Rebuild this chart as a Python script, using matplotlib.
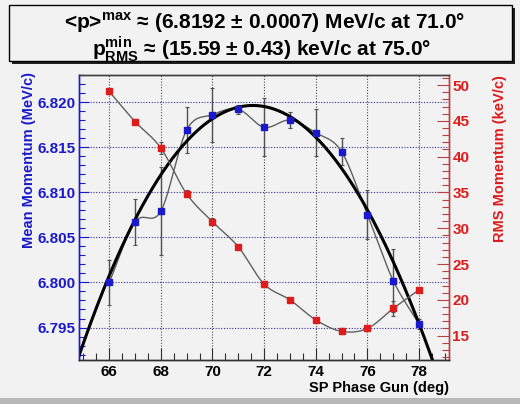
import numpy as np
import matplotlib
matplotlib.use('Agg')
import matplotlib.pyplot as plt
from matplotlib.patches import Rectangle
from matplotlib.ticker import MultipleLocator, FormatStrFormatter

# ---------------- data ----------------
phase = [66, 67, 68, 69, 70, 71, 72, 73, 74, 75, 76, 77, 78]
mean_p = [6.8000, 6.8067, 6.8079, 6.8169, 6.8186, 6.8192, 6.8172,
          6.8180, 6.8166, 6.8145, 6.8075, 6.8002, 6.7954]
mean_err = [0.0025, 0.0025, 0.0049, 0.0025, 0.0030, 0.0005, 0.0032,
            0.0009, 0.0026, 0.0015, 0.0027, 0.0035, 0.0006]
rms_p = [49.1, 44.9, 41.2, 34.8, 30.9, 27.4, 22.2, 20.0, 17.2, 15.6, 16.0, 18.8, 21.4]
rms_err = [0.3, 0.3, 0.8, 0.5, 0.5, 0.3, 0.4, 0.3, 0.3, 0.43, 0.4, 1.0, 0.3]
# points
fit_x = [64.83, 66, 67, 68, 70, 71.7, 74, 76, 78, 78.5]
fit_y = [6.7921, 6.8000, 6.8072, 6.8126, 6.8178, 6.8194, 6.8163, 6.8080, 6.7956, 6.7914]

title1 = "<p>" + r"$^{\mathbf{max}}$" + " \u2248 (6.8192 \u00b1 0.0007) MeV/c at 71.0\u00b0"
title2 = r"$\mathbf{p}^{\mathbf{min}}_{\mathbf{RMS}}$" + " \u2248 (15.59 \u00b1 0.43) keV/c at 75.0\u00b0"

plt.rcParams['font.family'] = ['Liberation Sans', 'DejaVu Sans']
plt.rcParams['font.weight'] = 'bold'
plt.rcParams['axes.labelweight'] = 'bold'
plt.rcParams['mathtext.fontset'] = 'custom'
plt.rcParams['mathtext.bf'] = 'Liberation Sans:bold'
plt.rcParams['mathtext.rm'] = 'Liberation Sans:bold'

BG = '#f2f2f2'
BLUE = '#1a1acc'
RED = '#dd1c1c'
W, H = 520, 404


def catmull(x, y, n=20):
    x = np.asarray(x, float); y = np.asarray(y, float)
    px = np.concatenate([[2 * x[0] - x[1]], x, [2 * x[-1] - x[-2]]])
    py = np.concatenate([[2 * y[0] - y[1]], y, [2 * y[-1] - y[-2]]])
    t = np.linspace(0, 1, n)
    xs, ys = [], []
    for i in range(1, len(px) - 2):
        for arr, out in ((px, xs), (py, ys)):
            p0, p1, p2, p3 = arr[i - 1], arr[i], arr[i + 1], arr[i + 2]
            out.append(0.5 * (2 * p1 + (-p0 + p2) * t + (2 * p0 - 5 * p1 + 4 * p2 - p3) * t ** 2
                              + (-p0 + 3 * p1 - 3 * p2 + p3) * t ** 3))
    return np.concatenate(xs), np.concatenate(ys)


fig = plt.figure(figsize=(W / 100, H / 100), dpi=100, facecolor=BG)
ax = fig.add_axes([79 / W, 1 - 360 / H, 370 / W, 285 / H])
ax.set_facecolor(BG)
ax2 = ax.twinx()

# fit curve
coef = np.polyfit(fit_x, fit_y, 3)
xx = np.linspace(64.8, 79.2, 300)
ax.plot(xx, np.polyval(coef, xx), color='black', lw=2.2, zorder=4)

# blue series
sx, sy = catmull(phase, mean_p)
ax.plot(sx, sy, color='#606060', lw=1.0, zorder=3)
ax.errorbar(phase, mean_p, yerr=mean_err, fmt='none', ecolor='#505050',
            elinewidth=1.0, capsize=1.5, capthick=0.8, zorder=3)
ax.plot(phase, mean_p, 's', color=BLUE, ms=4.8, zorder=5)

# red series
rx, ry = catmull(phase, rms_p)
ax2.plot(rx, ry, color='#606060', lw=1.0, zorder=3)
ax2.errorbar(phase, rms_p, yerr=rms_err, fmt='none', ecolor='#505050',
             elinewidth=1.0, capsize=1.5, capthick=0.8, zorder=3)
ax2.plot(phase, rms_p, 's', color=RED, ms=4.8, zorder=5)

# axes limits & ticks
ax.set_xlim(64.83, 79.16)
ax.set_ylim(6.7914, 6.8230)
ax2.set_ylim(11.6, 51.4)

ax.xaxis.set_major_locator(MultipleLocator(2))
ax.xaxis.set_minor_locator(MultipleLocator(0.5))
ax.yaxis.set_major_locator(MultipleLocator(0.005))
ax.yaxis.set_minor_locator(MultipleLocator(0.001))
ax.yaxis.set_major_formatter(FormatStrFormatter('%.3f'))
ax2.yaxis.set_major_locator(MultipleLocator(5))
ax2.yaxis.set_minor_locator(MultipleLocator(1))

ax.tick_params(axis='x', which='both', direction='in', top=False, bottom=True,
               labelsize=11, pad=3.5, color='#303030')
ax.tick_params(axis='x', which='major', length=9, width=0.8)
ax.tick_params(axis='x', which='minor', length=5, width=0.8)
ax.tick_params(axis='y', which='both', direction='in', left=True, right=False,
               color=BLUE, labelcolor=BLUE, labelsize=11, pad=2.5)
ax.tick_params(axis='y', which='major', length=7, width=0.8)
ax.tick_params(axis='y', which='minor', length=4, width=0.8)
ax2.tick_params(axis='y', which='both', direction='in', right=True, left=False,
                color='#b84040', labelcolor=RED, labelsize=11, pad=2.5)
ax2.tick_params(axis='y', which='major', length=9, width=0.8)
ax2.tick_params(axis='y', which='minor', length=5, width=0.8)

for a in (ax, ax2):
    a.spines['left'].set_color(BLUE)
    a.spines['right'].set_color('#b84040')
    a.spines['top'].set_color('#404040')
    a.spines['bottom'].set_color('#303030')
    for s in a.spines.values():
        s.set_linewidth(1.0)

ax.xaxis.grid(True, color='#505050', linestyle=(0, (1, 1.5)), lw=0.8)
ax.yaxis.grid(True, color='#3030a0', linestyle=(0, (1, 1.5)), lw=0.8)
ax.set_axisbelow(True)

ax.set_xlabel('SP Phase Gun (deg)', fontsize=10.5, fontweight='bold', loc='right')
ax.xaxis.set_label_coords(1.0, -0.072)
ax.set_ylabel('Mean Momentum (MeV/c)', fontsize=10.5, fontweight='bold', color=BLUE, loc='top')
ax.yaxis.set_label_coords(-0.115, 1.01)
ax2.set_ylabel('RMS Momentum (keV/c)', fontsize=10.5, fontweight='bold', color=RED, loc='top')
ax2.yaxis.set_label_coords(1.118, 1.0)

# title box with shadow
bx0, by0, bx1, by1 = 9, 5, 512, 61
fig.patches.append(Rectangle(((bx0 + 3) / W, 1 - (by1 + 3) / H), (bx1 - bx0) / W, (by1 - by0) / H,
                             transform=fig.transFigure, facecolor='#202020', edgecolor='none', zorder=1))
fig.patches.append(Rectangle((bx0 / W, 1 - by1 / H), (bx1 - bx0) / W, (by1 - by0) / H,
                             transform=fig.transFigure, facecolor=BG, edgecolor='black', lw=1.0, zorder=2))
fig.text(265 / W, 1 - 29 / H, title1, ha='center', va='baseline', fontsize=15, zorder=3)
fig.text(262 / W, 1 - 55 / H, title2, ha='center', va='baseline', fontsize=15, zorder=3)

# bottom bevel strip
fig.patches.append(Rectangle((0, 0), 1, 6 / H, transform=fig.transFigure,
                             facecolor='#b8b8b8', edgecolor='none', zorder=1))

fig.savefig('out.png', dpi=100, facecolor=BG)
